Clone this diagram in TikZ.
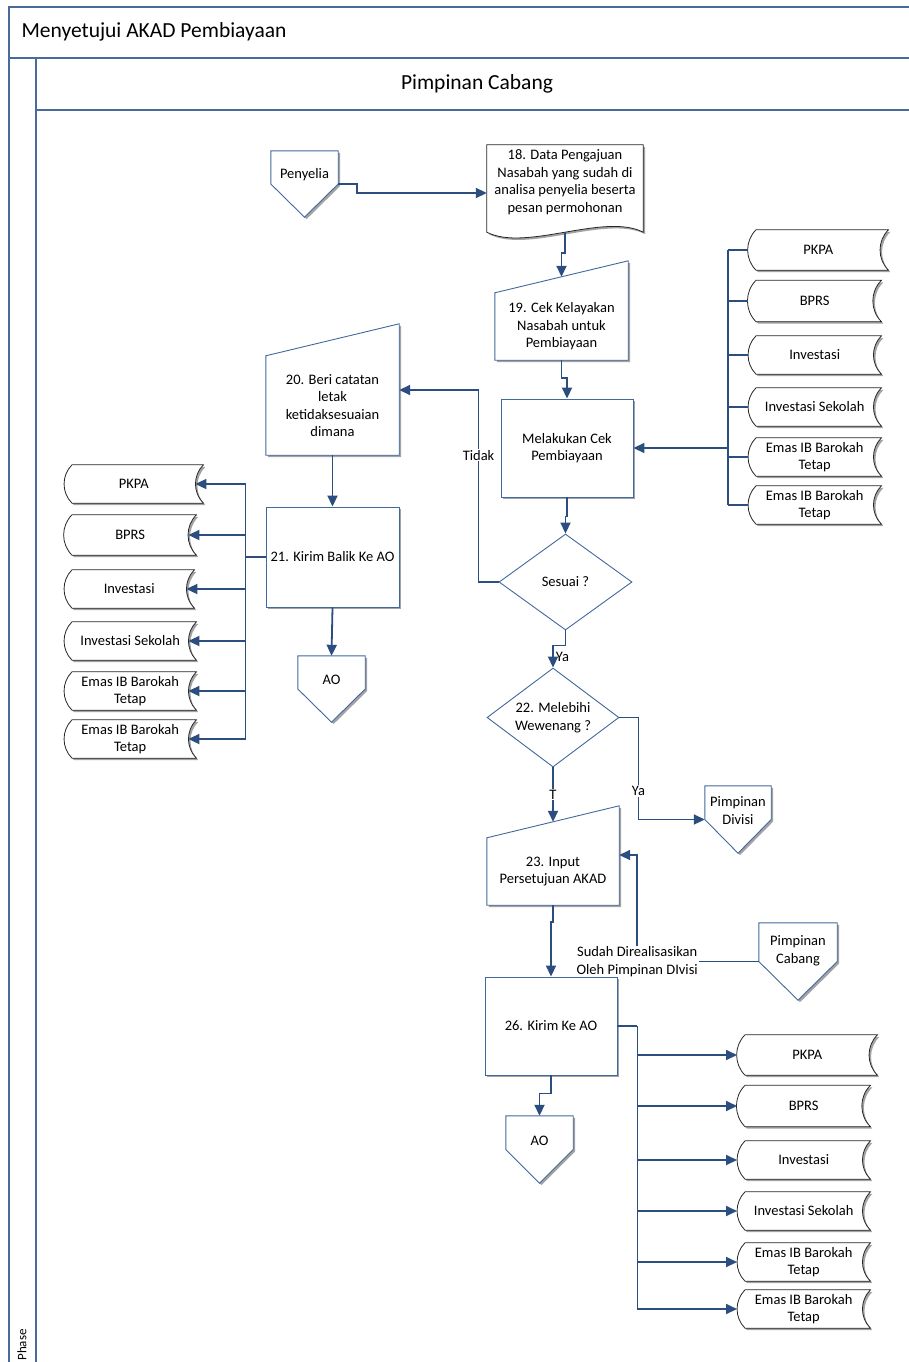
\documentclass[tikz,border=0pt]{standalone}
\usepackage{fontspec}
\setmainfont{Carlito}
\usetikzlibrary{arrows.meta,shapes.geometric,shadows,backgrounds}

\definecolor{flowblue}{HTML}{2C4D7F}
\definecolor{boxblue}{HTML}{42699D}
\definecolor{laneblue}{HTML}{4A6A9A}

\begin{document}
\begin{tikzpicture}[x=1pt,y=-1pt,
	txt/.style={font=\fontsize{14.5}{17.5}\selectfont, align=center},
	head/.style={font=\fontsize{21.5}{26}\selectfont},
	lane/.style={draw=laneblue, line width=1.2pt},
	shadowed/.style={drop shadow={shadow xshift=2pt, shadow yshift=-2pt, fill=black!45, opacity=0.8}},
	boxline/.style={draw=boxblue, line width=0.9pt, fill=white, shadowed},
	storeline/.style={draw=black!85, line width=0.8pt, fill=white, shadowed},
	process/.style={rectangle, txt, boxline, inner sep=2pt, minimum width=132pt, minimum height=98pt},
	decision/.style={diamond, txt, draw=boxblue, line width=0.9pt, fill=white, aspect=1.4, inner sep=0pt, minimum width=133pt, minimum height=96pt},
	manual/.style={rectangle, txt, inner sep=0pt, minimum width=133pt, minimum height=67pt},
	offpage/.style={rectangle, inner sep=0pt, minimum width=67pt, minimum height=66pt},
	offtxt/.style={txt, yshift=9pt},
	storage/.style={rectangle, txt, anchor=west, inner sep=0pt, minimum width=133pt, minimum height=38pt},
	flow/.style={draw=flowblue, line width=1.8pt},
	arr/.style={flow, -{Triangle[length=11pt,width=10pt]}},
	lbl/.style={txt, fill=white, inner sep=1pt}]
	
	\useasboundingbox (0,0) rectangle (909,1362);
	
	% pool and lane
	\draw[lane] (9,1362) -- (9,7) -- (909,7);
	\draw[lane] (9,58) -- (909,58);
	\draw[lane] (36,1362) -- (36,58);
	\draw[lane] (36,110) -- (909,110);
	\node[head, anchor=west] (title) at (18,32) {Menyetujui AKAD Pembiayaan};
	\node[head] (lanehead) at (477,84) {Pimpinan Cabang};
	\node[font=\fontsize{13}{15}\selectfont, rotate=90] (phase) at (22,1345) {Phase};
	
	% steps
	\node[offpage, label={[offtxt]center:Penyelia}] (penyelia) at (304.5,184) {};
	\node[txt, inner sep=0pt, minimum width=156pt, minimum height=74pt] (d18) at (565,182) {18. Data Pengajuan\\Nasabah yang sudah di\\analisa penyelia beserta\\pesan permohonan};
	\node[manual] (n19) at (561.5,326.5) {19. Cek Kelayakan\\Nasabah untuk\\Pembiayaan};
	\node[process] (melakukan) at (567,448) {Melakukan Cek\\Pembiayaan};
	\node[decision] (sesuai) at (565.5,582) {Sesuai ?};
	\node[manual, minimum height=99pt] (n20) at (332.5,405.5) {20. Beri catatan\\letak\\ketidaksesuaian\\dimana};
	\node[process, minimum width=133pt, minimum height=100pt] (n21) at (332.5,557) {21. Kirim Balik Ke AO};
	\node[offpage, label={[offtxt]center:AO}] (aoA) at (331.5,689) {};
	\node[decision, minimum width=132pt, minimum height=99pt] (n22) at (553,717.5) {22. Melebihi\\Wewenang ?};
	\node[offpage, minimum width=66pt, minimum height=67pt, label={[offtxt]center:Pimpinan\\Divisi}] (pdiv) at (738,819.5) {};
	\node[manual, minimum width=132pt] (n23) at (553,871.5) {23. Input\\Persetujuan AKAD};
	\node[offpage, minimum width=78pt, minimum height=77pt, label={[offtxt,yshift=2pt]center:Pimpinan\\Cabang}] (pcab) at (798,961.5) {};
	\node[process] (n26) at (551,1026) {26. Kirim Ke AO};
	\node[offpage, minimum height=67pt, label={[offtxt]center:AO}] (aoB) at (539.5,1149.5) {};
	
	% data stores, top right
	\node[storage, minimum width=140pt, minimum height=40pt] (r1) at (748,250) {PKPA};
	\node[storage, minimum height=41pt] (r2) at (748,301) {BPRS};
	\node[storage] (r3) at (748,355) {Investasi};
	\node[storage] (r4) at (748,407) {Investasi Sekolah};
	\node[storage] (r5) at (748,457) {Emas IB Barokah\\Tetap};
	\node[storage] (r6) at (748,505) {Emas IB Barokah\\Tetap};
	
	% data stores, left
	\node[storage, minimum width=139pt] (l1) at (64,484) {PKPA};
	\node[storage, minimum width=132pt, minimum height=40pt] (l2) at (64,535) {BPRS};
	\node[storage, minimum width=130pt] (l3) at (64,589) {Investasi};
	\node[storage, minimum width=132pt] (l4) at (64,641) {Investasi Sekolah};
	\node[storage, minimum width=132pt] (l5) at (64,691) {Emas IB Barokah\\Tetap};
	\node[storage, minimum width=132pt] (l6) at (64,739) {Emas IB Barokah\\Tetap};
	
	% data stores, bottom right
	\node[storage, minimum width=140pt, minimum height=40pt] (b1) at (737,1055) {PKPA};
	\node[storage, minimum height=41pt] (b2) at (737,1106) {BPRS};
	\node[storage] (b3) at (737,1160) {Investasi};
	\node[storage] (b4) at (737,1211) {Investasi Sekolah};
	\node[storage] (b5) at (737,1262) {Emas IB Barokah\\Tetap};
	\node[storage] (b6) at (737,1309) {Emas IB Barokah\\Tetap};
	
	% outlines of the drawn shapes
	\begin{scope}[on background layer]
		\foreach \n in {penyelia,aoA,pdiv,pcab,aoB}
			\draw[boxline] (\n.north west) -- (\n.north east) -- (\n.east) -- (\n.south) -- (\n.west) -- cycle;
		\foreach \n in {n19,n20,n23}
			\draw[boxline] (\n.south west) -- (\n.north west) -- ([yshift=32pt]\n.north east) -- (\n.south east) -- cycle;
		\draw[storeline] (d18.north west) -- (d18.north east) -- ([yshift=-13pt]d18.south east)
			.. controls ([xshift=-39pt,yshift=7pt]d18.south east) and ([xshift=39pt,yshift=-33pt]d18.south west) .. ([yshift=-13pt]d18.south west) -- cycle;
		\foreach \s in {l1,l2,l3,l4,l5,l6,r1,r2,r3,r4,r5,r6,b1,b2,b3,b4,b5,b6}
			\draw[storeline] ([xshift=8pt]\s.north west) -- (\s.north east) to[out=225,in=135] (\s.south east)
				-- ([xshift=8pt]\s.south west) to[out=135,in=225] ([xshift=8pt]\s.north west) -- cycle;
	\end{scope}
	
	% flow
	\draw[arr] (penyelia.east) -- ++(19,0) |- ([yshift=-11pt]d18.west);
	\draw[arr] ([yshift=-13pt]d18.south) -- ++(0,21) -| ([yshift=16pt]n19.north);
	\draw[arr] (n19.south) -- ++(0,18) -| (melakukan.north);
	\draw[arr] (melakukan.south) -- ++(0,19) -| (sesuai.north);
	\draw[arr] (sesuai.west) -- ++(-20,0) |- node[lbl, pos=0.33] {Tidak} ([yshift=15.5pt]n20.east);
	\draw[arr] (n20.south) -- (n21.north);
	\draw[arr] (n21.south) -- (aoA.north);
	\draw[arr] (sesuai.south) -- ++(0,15) -| node[txt, pos=0.75, anchor=west, inner sep=2pt] {Ya} (n22.north);
	\draw[arr] (n22.south) -- node[lbl] {T} ([yshift=16pt]n23.north);
	\draw[arr] (n22.east) -- ++(19,0) |- node[lbl, pos=0.36] {Ya} (pdiv.west);
	\draw[arr] (pcab.west) -| node[lbl, pos=0.5] {Sudah Direalisasikan\\Oleh Pimpinan DIvisi} ([xshift=18pt,yshift=16.5pt]n23.east) -- ([yshift=16.5pt]n23.east);
	\draw[arr] (n23.south) -- ++(0,17) -| (n26.north);
	\draw[arr] (n26.south) -- ++(0,18) -| (aoB.north);
	
	% to the stores
	\coordinate (busR) at (728,448);
	\draw[arr] (busR) -- (melakukan.east);
	\draw[flow] (busR |- r1.west) -- (busR |- r6.west);
	\foreach \s in {r1,r2,r3,r4,r5,r6}
		\draw[flow] (busR |- \s.west) -- (\s.west);
	
	\draw[flow] (n21.west) -- ++(-20,0) coordinate (busL);
	\draw[flow] (busL |- l1.east) -- (busL |- l6.east);
	\foreach \s in {l1,l2,l3,l4,l5,l6}
		\draw[arr] (busL |- \s.east) -- ([xshift=-8pt]\s.east);
	
	\draw[flow] (n26.east) -- ++(20,0) coordinate (busB);
	\draw[flow] (busB) -- (busB |- b6.west);
	\foreach \s in {b1,b2,b3,b4,b5,b6}
		\draw[arr] (busB |- \s.west) -- (\s.west);
	
\end{tikzpicture}
\end{document}
